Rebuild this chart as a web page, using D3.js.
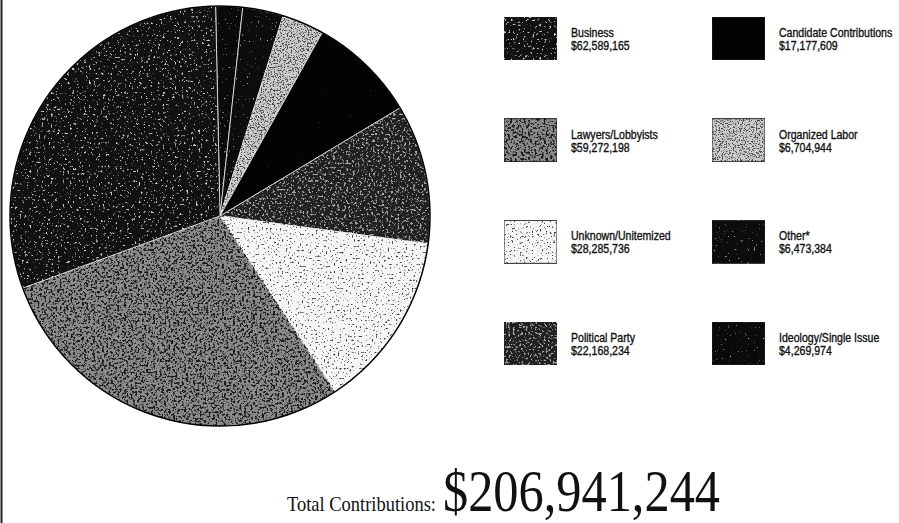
<!DOCTYPE html>
<html>
<head>
<meta charset="utf-8">
<script src="https://cdn.jsdelivr.net/npm/d3@7"></script>
<style>
  html, body { margin: 0; padding: 0; background: #fff; }
  svg { display: block; }
</style>
</head>
<body>
<svg id="chart" width="899" height="523"></svg>
<script>
// ---- data ----
const categories = ["Business", "Lawyers/Lobbyists", "Unknown/Unitemized", "Political Party",
                    "Candidate Contributions", "Organized Labor", "Other*", "Ideology/Single Issue"];
const amounts = [62589165, 59272198, 28285736, 22168234, 17177609, 6704944, 6473384, 4269974];
// clockwise drawing order of the slices, starting at 12 o'clock
const pieOrder = ["Ideology/Single Issue", "Other*", "Organized Labor", "Candidate Contributions",
                  "Political Party", "Unknown/Unitemized", "Lawyers/Lobbyists", "Business"];
// legend layout: two columns
const legendCol1 = ["Business", "Lawyers/Lobbyists", "Unknown/Unitemized", "Political Party"];
const legendCol2 = ["Candidate Contributions", "Organized Labor", "Other*", "Ideology/Single Issue"];
const totalLabel = "Total Contributions:";

// ---- styles (halftone look) ----
const styles = {
  "Business":                {base: "#111111", speck: "#c8c8c8", thr: 0.63, freq: 0.42},
  "Lawyers/Lobbyists":       {base: "#8c8c8c", speck: "#1c1c1c", thr: 0.50, freq: 0.45},
  "Unknown/Unitemized":      {base: "#f6f6f6", speck: "#3a3a3a", thr: 0.62, freq: 0.5},
  "Political Party":         {base: "#202020", speck: "#a8a8a8", thr: 0.56, freq: 0.45},
  "Candidate Contributions": {base: "#030303", speck: "#aaaaaa", thr: 0.80, freq: 0.5},
  "Organized Labor":         {base: "#cccccc", speck: "#4a4a4a", thr: 0.52, freq: 0.7},
  "Other*":                  {base: "#0c0c0c", speck: "#bbbbbb", thr: 0.70, freq: 0.45},
  "Ideology/Single Issue":   {base: "#0a0a0a", speck: "#bbbbbb", thr: 0.72, freq: 0.45}
};

const svg = d3.select("#chart");
const defs = svg.append("defs");
const idOf = c => "f" + categories.indexOf(c);

categories.forEach((c, i) => {
  const s = styles[c];
  const rgb = d3.rgb(s.speck);
  const f = defs.append("filter").attr("id", idOf(c))
    .attr("x", "0%").attr("y", "0%").attr("width", "100%").attr("height", "100%")
    .attr("color-interpolation-filters", "sRGB");
  f.append("feTurbulence").attr("type", "fractalNoise")
    .attr("baseFrequency", s.freq).attr("numOctaves", 3).attr("seed", 3 + i).attr("result", "n");
  const k = 8;
  f.append("feColorMatrix").attr("in", "n").attr("type", "matrix")
    .attr("values", `0 0 0 0 ${rgb.r/255} 0 0 0 0 ${rgb.g/255} 0 0 0 0 ${rgb.b/255} ${k} 0 0 0 ${-k*s.thr}`)
    .attr("result", "s");
  f.append("feComposite").attr("in", "s").attr("in2", "SourceGraphic").attr("operator", "in").attr("result", "sc");
  const m = f.append("feMerge");
  m.append("feMergeNode").attr("in", "SourceGraphic");
  m.append("feMergeNode").attr("in", "sc");
});

// left border rule
svg.append("line").attr("x1", 1.5).attr("x2", 1.5).attr("y1", 0).attr("y2", 523)
  .attr("stroke", "#222").attr("stroke-width", 2);

// ---- pie ----
const cx = 220, cy = 216, R = 210;
const valueOf = c => amounts[categories.indexOf(c)];
const offset = -1.2 * Math.PI / 180;
const pie = d3.pie().sort(null).value(valueOf)
  .startAngle(offset).endAngle(2 * Math.PI + offset);
const arc = d3.arc().innerRadius(0).outerRadius(R);

const g = svg.append("g").attr("transform", `translate(${cx},${cy})`);
g.selectAll("path.slice").data(pie(pieOrder)).join("path")
  .attr("class", "slice")
  .attr("d", arc)
  .attr("fill", d => styles[d.data].base)
  .attr("filter", d => `url(#${idOf(d.data)})`)
  .attr("stroke", "#eee").attr("stroke-width", 0.8);
g.append("circle").attr("r", R).attr("fill", "none").attr("stroke", "#000").attr("stroke-width", 1.5);

// ---- legend ----
const colX = d3.scalePoint().domain([0, 1]).range([504, 712]);
const rowY = d3.scalePoint().domain(d3.range(4)).range([17, 322]);
const fmt = d3.format("$,");
const legendItems = [];
legendCol1.forEach((c, r) => legendItems.push({c, col: 0, row: r}));
legendCol2.forEach((c, r) => legendItems.push({c, col: 1, row: r}));

const lg = svg.append("g").selectAll("g").data(legendItems).join("g")
  .attr("transform", d => `translate(${colX(d.col)},${rowY(d.row)})`);
lg.append("rect").attr("width", 53).attr("height", 43)
  .attr("fill", d => styles[d.c].base)
  .attr("filter", d => `url(#${idOf(d.c)})`)
  .attr("stroke", "#222").attr("stroke-width", 1);
const tg = lg.append("g").attr("transform", "translate(67,0) scale(0.88,1)")
  .style("font-family", "'Liberation Sans', Arial, sans-serif")
  .style("font-size", "12px").attr("fill", "#111")
  .attr("stroke", "#111").attr("stroke-width", 0.35);
tg.append("text").attr("x", 0).attr("y", 20).text(d => d.c);
tg.append("text").attr("x", 0).attr("y", 33).text(d => fmt(valueOf(d.c)));

// ---- total ----
const total = d3.sum(amounts);
svg.append("text").attr("x", 287).attr("y", 511)
  .style("font-family", "'Liberation Serif', 'DejaVu Serif', serif")
  .style("font-size", "21px").attr("fill", "#111")
  .attr("textLength", 149).attr("lengthAdjust", "spacingAndGlyphs")
  .text(totalLabel);
svg.append("text").attr("x", 443).attr("y", 511)
  .style("font-family", "'Liberation Serif', 'DejaVu Serif', serif")
  .style("font-size", "60px").attr("fill", "#111")
  .attr("textLength", 277).attr("lengthAdjust", "spacingAndGlyphs")
  .text(fmt(total));
</script>
</body>
</html>
